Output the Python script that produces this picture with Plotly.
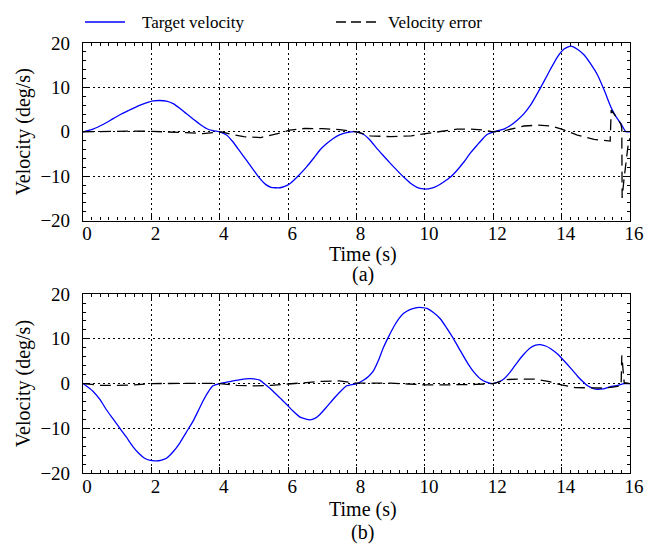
import plotly.graph_objects as go

# ---- (a) target velocity and velocity error ----
t_a = [0, 0.29, 0.6, 0.87, 1.1, 1.36, 1.6, 1.85, 2.05, 2.24, 2.44, 2.65, 2.83, 3.02,
       3.22, 3.42, 3.61, 3.8, 4.0, 4.2, 4.39, 4.58, 4.78, 4.98, 5.17, 5.35, 5.5, 5.63,
       5.76, 5.9, 6.05, 6.3, 6.54, 6.75, 6.93, 7.12, 7.32, 7.5, 7.71, 8.0, 8.21, 8.4,
       8.6, 8.8, 8.99, 9.2, 9.38, 9.58, 9.77, 9.9, 10.01, 10.2, 10.36, 10.55, 10.75,
       10.95, 11.14, 11.33, 11.53, 11.7, 11.82, 12.02, 12.31, 12.5, 12.7, 12.9, 13.09,
       13.28, 13.48, 13.68, 13.88, 14.08, 14.27, 14.46, 14.66, 14.85, 15.05, 15.25,
       15.44, 15.6, 15.73, 15.88, 16.0]
target_a = [0, 0.6, 1.7, 2.9, 3.9, 4.9, 5.8, 6.5, 6.95, 7.05, 6.9, 6.3, 5.3, 4.1,
            2.9, 1.7, 0.75, 0.25, 0, -0.7, -2.3, -4.3, -6.4, -8.5, -10.5, -11.9, -12.5,
            -12.6, -12.6, -12.3, -11.7, -9.9, -7.9, -5.9, -4.1, -2.7, -1.5, -0.7, -0.2,
            0, -0.6, -1.9, -3.8, -5.5, -7.1, -8.8, -10.2, -11.6, -12.5, -12.8, -12.9,
            -12.7, -12.2, -11.3, -10.2, -8.6, -6.8, -4.8, -3.0, -1.5, -0.6, 0, 0.6, 1.4,
            2.6, 4.1, 6.0, 8.5, 11.3, 14.2, 16.9, 18.7, 19.3, 18.6, 17.3, 15.3, 12.8,
            9.3, 5.6, 3.3, 1.9, 0, 0]

te_a = [0, 0.5, 1.0, 1.5, 2.0, 2.5, 3.0, 3.5, 3.9, 4.05, 4.3, 4.7, 5.2, 5.66, 5.85,
        6.05, 6.5, 7.0, 7.5, 7.8, 8.0, 8.4, 9.0, 9.6, 10.06, 10.55, 10.94, 11.33,
        11.72, 12.0, 12.4, 12.9, 13.3, 13.7, 14.0, 14.46, 14.95, 15.42, 15.45, 15.6,
        15.73, 15.76, 15.77, 15.82, 15.9, 15.96, 16.0]
error_a = [0, 0.1, 0.15, 0.15, 0.1, 0.0, -0.2, -0.4, -0.1, 0, -0.5, -1.1, -1.3, -0.5,
           -0.1, 0.4, 0.75, 0.7, 0.5, 0.2, 0, -0.9, -1.1, -0.9, -0.4, 0.15, 0.6, 0.6,
           0.4, 0, 0.4, 1.3, 1.5, 1.3, 0.6, -0.75, -1.7, -2.1, 4.9, 3.3, 1.8, 0.8,
           -14.9, -11.0, -5.5, -2.0, -1.5]

# ---- (b) target velocity and velocity error ----
t_b = [0, 0.29, 0.5, 0.68, 0.88, 1.07, 1.27, 1.46, 1.63, 1.8, 1.97, 2.14, 2.3, 2.44,
       2.63, 2.83, 3.02, 3.22, 3.37, 3.51, 3.66, 3.8, 4.0, 4.2, 4.39, 4.6, 4.88, 5.0,
       5.17, 5.36, 5.56, 5.76, 5.96, 6.15, 6.35, 6.5, 6.64, 6.78, 6.93, 7.12, 7.32,
       7.5, 7.71, 7.82, 8.01, 8.2, 8.35, 8.5, 8.65, 8.79, 8.94, 9.09, 9.23, 9.38,
       9.58, 9.77, 9.92, 10.06, 10.25, 10.45, 10.64, 10.84, 11.04, 11.24, 11.43,
       11.63, 11.8, 11.97, 12.14, 12.31, 12.5, 12.7, 12.9, 13.09, 13.24, 13.38,
       13.53, 13.68, 13.88, 14.07, 14.27, 14.46, 14.61, 14.76, 14.9, 15.05, 15.2,
       15.34, 15.5, 15.63, 15.83, 16.0]
target_b = [0, -1.7, -3.6, -5.8, -7.9, -9.9, -12.0, -14.1, -15.6, -16.7, -17.2, -17.3,
            -17.1, -16.7, -15.3, -13.3, -10.9, -8.4, -6.1, -3.9, -1.9, -0.5, 0, 0.3,
            0.6, 0.9, 1.1, 1.05, 0.75, -0.4, -1.7, -3.2, -4.7, -6.2, -7.5, -7.9, -8.1,
            -7.8, -6.9, -5.3, -3.5, -2.0, -0.5, -0.3, 0, 0.75, 1.6, 2.9, 5.3, 8.1,
            10.5, 12.7, 14.4, 15.7, 16.6, 17.0, 17.0, 16.8, 15.9, 14.5, 12.4, 10.0,
            7.3, 4.7, 2.6, 1.0, 0.3, 0, 0.3, 1.0, 2.6, 4.7, 6.6, 8.0, 8.6, 8.7, 8.4,
            7.8, 6.6, 5.1, 3.4, 1.7, 0.5, -0.5, -1.0, -1.3, -1.2, -0.9, -0.6, -0.4,
            0, 0]

te_b = [0, 0.5, 1.0, 1.5, 2.0, 2.5, 3.0, 3.5, 4.0, 4.5, 5.0, 5.5, 6.0, 6.5, 7.0,
        7.5, 7.8, 8.0, 8.5, 9.0, 9.5, 10.0, 10.5, 11.0, 11.5, 12.0, 12.4, 12.8,
        13.2, 13.6, 14.0, 14.4, 14.8, 15.2, 15.5, 15.74, 15.76, 15.79, 15.83, 16.0]
error_b = [0, -0.4, -0.4, -0.3, 0, 0.05, 0.1, 0.05, 0, -0.4, -0.5, -0.4, -0.1, 0.2,
           0.5, 0.6, 0.4, 0.1, 0.1, 0.1, -0.1, -0.3, -0.3, -0.3, -0.2, 0, 0.9, 1.0,
           1.0, 0.5, -0.3, -0.9, -1.0, -1.0, -0.8, -0.5, 6.3, 3.0, 0.2, 0.0]

x_ticks = [0, 2, 4, 6, 8, 10, 12, 14, 16]
y_ticks = [-20, -10, 0, 10, 20]

FONT = "Times New Roman, Liberation Serif, serif"
BLUE = "#0000ff"
BLACK = "#000000"
ERR_DASH = "11px,6px"

fig = go.Figure()

for xa, ya, tt, vv, te, ee in [("x", "y", t_a, target_a, te_a, error_a),
                               ("x2", "y2", t_b, target_b, te_b, error_b)]:
    fig.add_trace(go.Scatter(x=tt, y=vv, mode="lines", xaxis=xa, yaxis=ya,
                             name="Target velocity", showlegend=False,
                             line=dict(color=BLUE, width=1.3, shape="spline",
                                       smoothing=0.5)))
    fig.add_trace(go.Scatter(x=te, y=ee, mode="lines", xaxis=xa, yaxis=ya,
                             name="Velocity error", showlegend=False,
                             line=dict(color=BLACK, width=1.3, dash=ERR_DASH)))

axis_common = dict(
    showline=True, linecolor=BLACK, linewidth=1.2, mirror="ticks",
    ticks="inside", ticklen=6, tickcolor=BLACK, tickwidth=1,
    showgrid=True, gridcolor=BLACK, gridwidth=1, griddash="1.5px,3.5px",
    zeroline=False,
    tickfont=dict(family=FONT, size=19, color=BLACK),
)

xaxis_common = dict(axis_common, range=[0, 16], tickvals=x_ticks,
                    ticklabelshift=4, ticklabelstandoff=-4,
                    minor=dict(dtick=0.25, ticks="inside", ticklen=3,
                               tickcolor=BLACK, showgrid=False))
yaxis_common = dict(axis_common, range=[-20, 20], tickvals=y_ticks,
                    ticklabelstandoff=8,
                    minor=dict(dtick=2, ticks="inside", ticklen=3,
                               tickcolor=BLACK, showgrid=False),
                    title=dict(text="Velocity (deg/s)", standoff=4,
                               font=dict(family=FONT, size=20, color=BLACK)))

fig.update_layout(
    width=656, height=550,
    margin=dict(l=83, r=26, t=43, b=77),
    paper_bgcolor="white", plot_bgcolor="white",
    font=dict(family=FONT, color=BLACK),
    xaxis=dict(xaxis_common, domain=[0, 1], anchor="y"),
    yaxis=dict(yaxis_common, domain=[0.587, 1.0], anchor="x"),
    xaxis2=dict(xaxis_common, domain=[0, 1], anchor="y2"),
    yaxis2=dict(yaxis_common, domain=[0.0, 0.416], anchor="x2"),
    showlegend=False,
)

# axis titles below each panel and the panel captions
for ytitle, ycap, cap in [(0.507, 0.4605, "(a)"), (-0.084, -0.1395, "(b)")]:
    fig.add_annotation(text="Time (s)", x=0.512, y=ytitle, xref="paper", yref="paper",
                       showarrow=False, xanchor="center", yanchor="middle",
                       font=dict(family=FONT, size=20, color=BLACK))
    fig.add_annotation(text=cap, x=0.511, y=ycap, xref="paper", yref="paper",
                       showarrow=False, xanchor="center", yanchor="middle",
                       font=dict(family=FONT, size=20, color=BLACK))

# legend keys above the first panel
LEG_Y = 1.0488
fig.add_shape(type="line", xref="paper", yref="paper", x0=0.0037, x1=0.0768,
              y0=LEG_Y, y1=LEG_Y, line=dict(color=BLUE, width=1.5))
fig.add_annotation(text="Target velocity", x=0.1042, y=LEG_Y, xref="paper",
                   yref="paper", showarrow=False, xanchor="left", yanchor="middle",
                   font=dict(family=FONT, size=17, color=BLACK))
fig.add_shape(type="line", xref="paper", yref="paper", x0=0.4625, x1=0.5356,
              y0=LEG_Y, y1=LEG_Y, line=dict(color=BLACK, width=1.5, dash="10px,5px"))
fig.add_annotation(text="Velocity error", x=0.554, y=LEG_Y, xref="paper",
                   yref="paper", showarrow=False, xanchor="left", yanchor="middle",
                   font=dict(family=FONT, size=17, color=BLACK))

fig.write_html("out.html")
